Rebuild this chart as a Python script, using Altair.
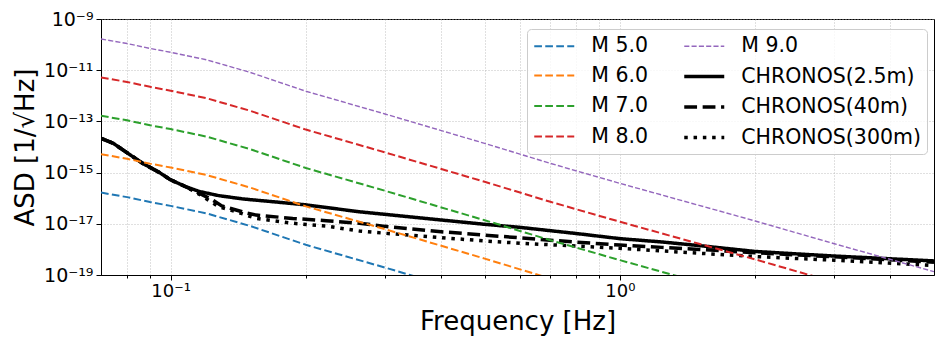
import altair as alt
import pandas as pd

# ---------------- data ----------------
freq_eq = [0.07, 0.08, 0.09, 0.1, 0.12, 0.15, 0.2, 0.3, 0.5, 0.7, 1.0, 1.5, 2.0, 3.0, 5.0]
asd_m5 = [1.66e-16, 1.10e-16, 7.08e-17, 5.01e-17, 2.57e-17, 8.32e-18, 1.51e-18, 1.95e-19,
          1.38e-20, 2.29e-21, 3.80e-22, 5.25e-23, 1.29e-23, 1.66e-24, 1.35e-25]
asd_m6 = [5.25e-15, 3.47e-15, 2.24e-15, 1.58e-15, 8.13e-16, 2.63e-16, 4.79e-17, 6.17e-18,
          4.37e-19, 7.24e-20, 1.20e-20, 1.66e-21, 4.07e-22, 5.25e-23, 4.27e-24]
asd_m7 = [1.66e-13, 1.10e-13, 7.08e-14, 5.01e-14, 2.57e-14, 8.32e-15, 1.51e-15, 1.95e-16,
          1.38e-17, 2.29e-18, 3.80e-19, 5.25e-20, 1.29e-20, 1.66e-21, 1.35e-22]
asd_m8 = [5.25e-12, 3.47e-12, 2.24e-12, 1.58e-12, 8.13e-13, 2.63e-13, 4.79e-14, 6.17e-15,
          4.37e-16, 7.24e-17, 1.20e-17, 1.66e-18, 4.07e-19, 5.25e-20, 4.27e-21]
asd_m9 = [1.66e-10, 1.10e-10, 7.08e-11, 5.01e-11, 2.57e-11, 8.32e-12, 1.51e-12, 1.95e-13,
          1.38e-14, 2.29e-15, 3.80e-16, 5.25e-17, 1.29e-17, 1.66e-18, 1.35e-19]

freq_c25 = [0.07, 0.0746, 0.0804, 0.0867, 0.0945, 0.0995, 0.102, 0.108, 0.116, 0.128, 0.145,
            0.172, 0.2, 0.263, 0.3, 0.4, 0.5, 0.6, 0.8, 1.0, 1.24, 1.5, 2.0, 2.5, 3.0, 5.0]
asd_c25 = [2.19e-14, 1.38e-14, 5.62e-15, 2.29e-15, 1.00e-15, 5.50e-16, 4.47e-16, 2.82e-16,
           1.82e-16, 1.26e-16, 9.33e-17, 7.08e-17, 5.50e-17, 2.95e-17, 2.34e-17, 1.41e-17,
           9.55e-18, 7.24e-18, 4.17e-18, 2.63e-18, 1.95e-18, 1.41e-18, 8.32e-19, 6.61e-19,
           5.50e-19, 3.55e-19]

freq_c40 = [0.07, 0.0746, 0.0804, 0.0867, 0.0945, 0.0995, 0.102, 0.108, 0.116, 0.124, 0.13,
            0.138, 0.147, 0.155, 0.187, 0.222, 0.263, 0.3, 0.4, 0.5, 0.6, 0.8, 1.0, 1.24,
            1.5, 2.0, 3.0, 5.0]
asd_c40 = [2.19e-14, 1.38e-14, 5.62e-15, 2.29e-15, 1.00e-15, 5.50e-16, 4.47e-16, 2.82e-16,
           1.55e-16, 8.51e-17, 5.01e-17, 3.72e-17, 2.69e-17, 2.19e-17, 1.62e-17, 1.32e-17,
           1.05e-17, 7.94e-18, 4.90e-18, 3.63e-18, 2.82e-18, 1.91e-18, 1.48e-18, 1.20e-18,
           1.00e-18, 7.41e-19, 5.13e-19, 3.16e-19]

freq_c300 = [0.07, 0.0746, 0.0804, 0.0867, 0.0945, 0.0995, 0.102, 0.108, 0.116, 0.122, 0.128,
             0.14, 0.155, 0.187, 0.222, 0.263, 0.3, 0.4, 0.5, 0.6, 0.8, 1.0, 1.24, 1.5, 2.0,
             2.5, 3.0, 5.0]
asd_c300 = [2.19e-14, 1.38e-14, 5.62e-15, 2.29e-15, 1.00e-15, 5.50e-16, 4.47e-16, 2.82e-16,
            1.41e-16, 7.94e-17, 4.68e-17, 2.95e-17, 1.62e-17, 1.05e-17, 8.13e-18, 5.25e-18,
            4.27e-18, 2.88e-18, 2.14e-18, 1.74e-18, 1.35e-18, 1.10e-18, 8.71e-19, 7.08e-19,
            5.25e-19, 4.37e-19, 3.80e-19, 2.34e-19]

# legend order (the legend fills its two columns top to bottom)
legend_order = ["M 5.0", "M 6.0", "M 7.0", "M 8.0",
                "M 9.0", "CHRONOS(2.5m)", "CHRONOS(40m)", "CHRONOS(300m)"]
legend_colors = ["#1f77b4", "#ff7f0e", "#2ca02c", "#d62728",
                 "#9467bd", "#000000", "#000000", "#000000"]
legend_dashes = [[7.7, 3.3], [7.7, 3.3], [7.7, 3.3], [7.7, 3.3],
                 [5.1, 2.2], [1, 0], [12.8, 5.6], [3.5, 5.8]]
legend_widths = [2.0, 2.0, 2.0, 2.0, 1.4, 3.5, 3.5, 3.5]

x_tick_values = [0.08, 0.09, 0.1, 0.2, 0.3, 0.4, 0.5, 0.6, 0.7, 0.8, 0.9, 1.0, 2.0, 3.0, 4.0]
x_major_values = [0.1, 1.0]
x_major_labels = ["10⁻¹", "10⁰"]
y_tick_values = [1e-19, 1e-17, 1e-15, 1e-13, 1e-11, 1e-9]
y_tick_labels = ["10⁻¹⁹", "10⁻¹⁷", "10⁻¹⁵", "10⁻¹³", "10⁻¹¹", "10⁻⁹"]

# ---------------- tables ----------------
def frame(name, f, a):
    return pd.DataFrame({"f": f, "asd": a, "series": name})

eq_df = pd.concat([
    frame("M 5.0", freq_eq, asd_m5),
    frame("M 6.0", freq_eq, asd_m6),
    frame("M 7.0", freq_eq, asd_m7),
    frame("M 8.0", freq_eq, asd_m8),
    frame("M 9.0", freq_eq, asd_m9),
], ignore_index=True)

ch_df = pd.concat([
    frame("CHRONOS(2.5m)", freq_c25, asd_c25),
    frame("CHRONOS(40m)", freq_c40, asd_c40),
    frame("CHRONOS(300m)", freq_c300, asd_c300),
], ignore_index=True)

# ---------------- label expressions ----------------
major_test = " || ".join(f"abs(datum.value - {v}) < 1e-6" for v in x_major_values)
x_expr = " : ".join(
    f"abs(datum.value - {v}) < 1e-6 ? '{lab}'" for v, lab in zip(x_major_values, x_major_labels)
) + " : ''"
y_expr = " : ".join(
    f"datum.value < {v * 3} ? '{lab}'" for v, lab in zip(y_tick_values[:-1], y_tick_labels[:-1])
) + f" : '{y_tick_labels[-1]}'"

FONT = "DejaVu Sans"

legend = alt.Legend(
    title=None, orient="none", legendX=426, legendY=10, columns=2,
    symbolType="M-2,0H2", symbolSize=400, symbolOffset=9.25,
    labelFontSize=20.5, labelFont=FONT, labelColor="black", labelLimit=400,
    labelOffset=25, rowPadding=7.5, columnPadding=28, padding=6,
    strokeColor="#cccccc", fillColor="rgba(255,255,255,0.8)", cornerRadius=4,
)

x_enc = alt.X(
    "f:Q",
    scale=alt.Scale(type="log", domain=[0.07, 5], nice=False),
    axis=alt.Axis(
        title="Frequency [Hz]", values=x_tick_values, labelExpr=x_expr,
        labelFontSize=18, labelPadding=2,
        tickSize={"condition": {"test": major_test, "value": 5}, "value": 3},
        labelFlush=False, labelOverlap=False, grid=True, titleFontSize=26, titlePadding=8,
    ),
)
y_enc = alt.Y(
    "asd:Q",
    scale=alt.Scale(type="log", domain=[1e-19, 1e-9], nice=False),
    axis=alt.Axis(
        title="ASD [1/√Hz]", values=y_tick_values, labelExpr=y_expr,
        labelFontSize=19, labelPadding=3, tickSize=5, labelFlush=False,
        labelOverlap=False, grid=True, titleFontSize=26, titlePadding=5,
    ),
)
color_enc = alt.Color("series:N", scale=alt.Scale(domain=legend_order, range=legend_colors),
                      legend=legend)
dash_enc = alt.StrokeDash("series:N", scale=alt.Scale(domain=legend_order, range=legend_dashes),
                          legend=legend)
width_enc = alt.StrokeWidth("series:N",
                            scale=alt.Scale(type="ordinal", domain=legend_order, range=legend_widths),
                            legend=legend)

black = alt.Chart(ch_df).mark_line(clip=True).encode(
    x=x_enc, y=y_enc, color=color_enc, strokeDash=dash_enc, strokeWidth=width_enc
)
coloured = alt.Chart(eq_df).mark_line(clip=True).encode(
    x=x_enc, y=y_enc, color=color_enc, strokeDash=dash_enc, strokeWidth=width_enc
)

chart = alt.layer(black, coloured).properties(
    width=833, height=256,
    autosize=alt.AutoSizeParams(type="none"),
    padding={"left": 93, "top": 11, "right": 4, "bottom": 65},
).configure_view(
    stroke="black", strokeWidth=1
).configure_axis(
    domainColor="black", tickColor="black", labelColor="black", titleColor="black",
    labelFont=FONT, titleFont=FONT, titleFontWeight="normal",
    gridColor="#b0b0b0", gridDash=[1, 2], gridWidth=0.8, domainWidth=1, tickWidth=1,
)

chart.save("out.html", embed_options={"renderer": "svg", "actions": False})
